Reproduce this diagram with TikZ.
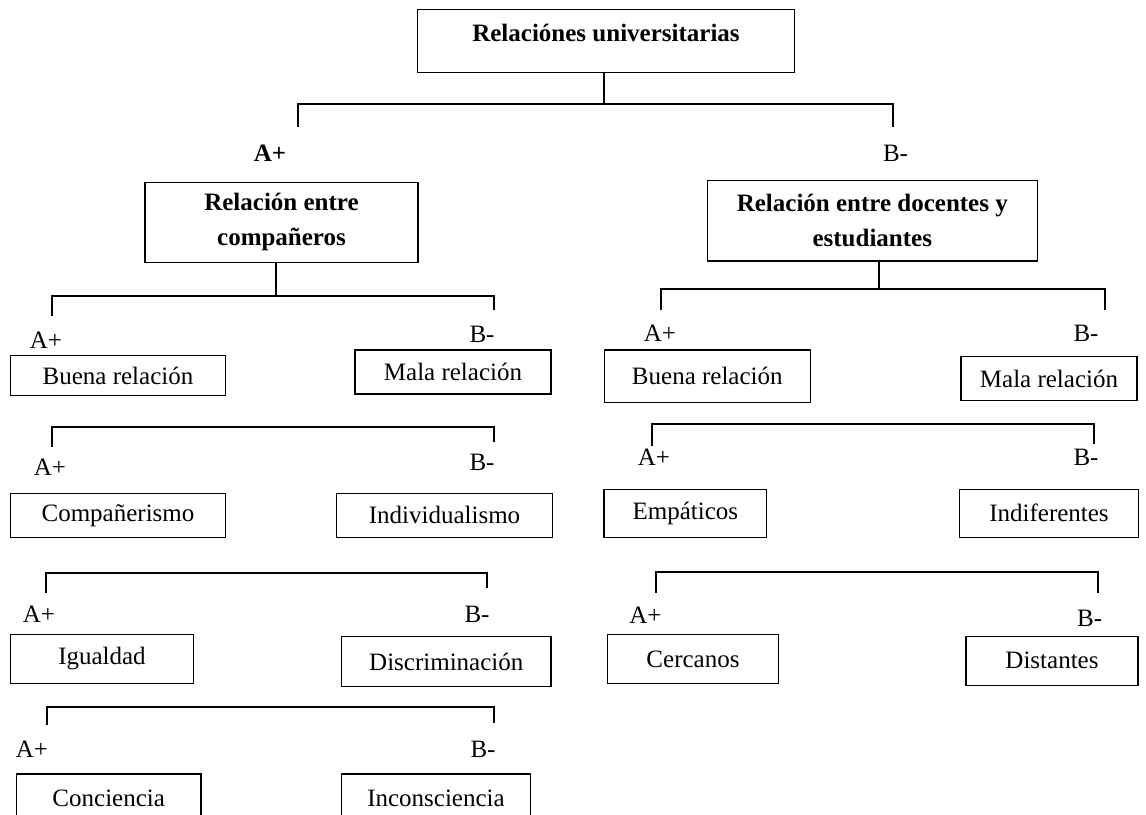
\documentclass[tikz,border=0pt]{standalone}
\usepackage{fontspec}
\setmainfont{Liberation Serif}
\usepackage{tikz}
\usetikzlibrary{positioning, calc}

\begin{document}
\begin{tikzpicture}[
        x=0.5pt, y=-0.5pt,
        font=\fontsize{12.5}{17.5}\selectfont,
        % Style for the boxes with the categories
        catbox/.style={
            draw,
            line width=0.6pt,
            inner sep=0pt,
            align=center
        },
        % Style for the bold heading boxes
        headbox/.style={
            catbox,
            font=\fontsize{12.5}{17.5}\selectfont\bfseries
        },
        % Style for the A+ / B- marks
        polelabel/.style={
            inner sep=0pt
        },
        % Style for the bracket lines
        bracket/.style={
            line width=0.6pt
        }
    ]

    \useasboundingbox (0,0) rectangle (1146,814);
    \clip (0,0) rectangle (1146,814);

    % ==========================================
    % HEADINGS
    % ==========================================
    \node[headbox, minimum width=188.6pt, minimum height=31.2pt,
          text height=8pt, text depth=8pt] (root) at (606,41) {Relaciónes universitarias};
    \node[headbox, minimum width=136.5pt, minimum height=40.3pt] (peers) at (281.5,222.4)
        {Relación entre\\compañeros};
    \node[headbox, minimum width=165.2pt, minimum height=40.3pt] (teach) at (872.3,220.7)
        {Relación entre docentes y\\estudiantes};

    \node[polelabel, font=\fontsize{12.5}{17.5}\selectfont\bfseries] (rootA) at (270,153) {A+};
    \node[polelabel] (rootB) at (895.5,153) {B-};

    % ==========================================
    % LEFT BRANCH (compañeros)
    % ==========================================
    \node[catbox, minimum width=107.8pt, minimum height=20.2pt] (goodL) at (118,375.5) {Buena relación};
    \node[catbox, minimum width=98pt, minimum height=22pt] (badL) at (453,372) {Mala relación};
    \node[catbox, minimum width=107.8pt, minimum height=22pt] (comp) at (118,515.3) {Compañerismo};
    \node[catbox, minimum width=108pt, minimum height=22pt] (indiv) at (444.5,515.3) {Individualismo};
    \node[catbox, minimum width=91.7pt, minimum height=24.5pt] (equal) at (102,658.8) {Igualdad};
    \node[catbox, minimum width=104.7pt, minimum height=25pt] (discr) at (446.3,661.7) {Discriminación};
    \node[catbox, minimum width=92.3pt, minimum height=24.5pt] (consc) at (108.7,798.5) {Conciencia};
    \node[catbox, minimum width=94.5pt, minimum height=24.5pt] (incons) at (436,798.5) {Inconsciencia};

    \node[polelabel] (pA1) at (46,340.5) {A+};
    \node[polelabel] (pB1) at (482,334) {B-};
    \node[polelabel] (pA2) at (50,467.5) {A+};
    \node[polelabel] (pB2) at (482,462.5) {B-};
    \node[polelabel] (pA3) at (39,614) {A+};
    \node[polelabel] (pB3) at (477,614) {B-};
    \node[polelabel] (pA4) at (32,749) {A+};
    \node[polelabel] (pB4) at (483,749) {B-};

    % ==========================================
    % RIGHT BRANCH (docentes y estudiantes)
    % ==========================================
    \node[catbox, minimum width=103.2pt, minimum height=26.3pt] (goodR) at (707.3,376.3) {Buena relación};
    \node[catbox, minimum width=88pt, minimum height=22pt] (badR) at (1049,378.7) {Mala relación};
    \node[catbox, minimum width=81.3pt, minimum height=24pt] (empat) at (685.3,513.3) {Empáticos};
    \node[catbox, minimum width=89.5pt, minimum height=24pt] (indif) at (1049,513.3) {Indiferentes};
    \node[catbox, minimum width=85.3pt, minimum height=24.7pt] (close) at (693,659) {Cercanos};
    \node[catbox, minimum width=86pt, minimum height=24.6pt] (dist) at (1052,660.7) {Distantes};

    \node[polelabel] (tA1) at (660,333) {A+};
    \node[polelabel] (tB1) at (1086,333) {B-};
    \node[polelabel] (tA2) at (654,457.5) {A+};
    \node[polelabel] (tB2) at (1086,457) {B-};
    \node[polelabel] (tA3) at (645.5,615) {A+};
    \node[polelabel] (tB3) at (1089.6,618.7) {B-};

    % ==========================================
    % BRACKETS
    % ==========================================
    % bar joints and free ends
    \coordinate (t0) at (604,104);   \coordinate (t0L) at (298,127);  \coordinate (t0R) at (893,127);
    \coordinate (b1) at (276,296);   \coordinate (b1L) at (52,316);   \coordinate (b1R) at (494,310);
    \coordinate (b2) at (270,427);   \coordinate (b2L) at (52,447);   \coordinate (b2R) at (494,442);
    \coordinate (b3) at (270,573);   \coordinate (b3L) at (46,593);   \coordinate (b3R) at (487,588);
    \coordinate (b4) at (270,707);   \coordinate (b4L) at (47,725);   \coordinate (b4R) at (494,723);
    \coordinate (c1) at (879,289);   \coordinate (c1L) at (661,310);  \coordinate (c1R) at (1105,310);
    \coordinate (c2) at (870,424);   \coordinate (c2L) at (652,446);  \coordinate (c2R) at (1094,444);
    \coordinate (c3) at (870,572);   \coordinate (c3L) at (656,593);  \coordinate (c3R) at (1098,593);

    \draw[bracket] (root.south -| t0) -- (t0);
    \draw[bracket] (peers.south -| b1) -- (b1);
    \draw[bracket] (teach.south -| c1) -- (c1);

    \foreach \j in {t0, b1, b2, b3, b4, c1, c2, c3}
        \draw[bracket] (\j L) |- (\j) -| (\j R);

\end{tikzpicture}
\end{document}
